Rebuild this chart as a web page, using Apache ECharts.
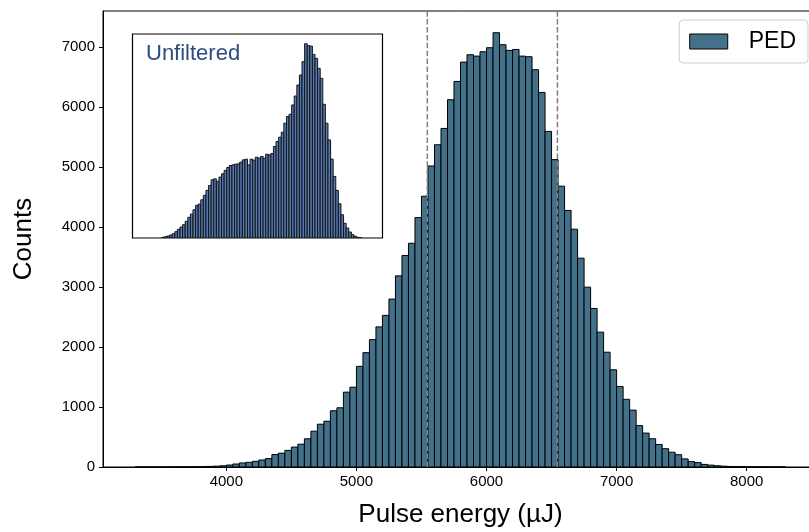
<!DOCTYPE html>
<html>
<head>
<meta charset="utf-8">
<script src="https://cdn.jsdelivr.net/npm/echarts@6/dist/echarts.min.js"></script>
<style>
  html, body { margin: 0; padding: 0; background: #fff; }
  #chart { width: 809px; height: 532px; }
</style>
</head>
<body>
<div id="chart"></div>
<script>
// ---- Data ----
const binStart = 3300;      // first bin left edge (µJ)
const binWidth = 50;        // bin width (µJ)
const pedCounts = [
  1,0,0,1,0,1,2,1,3,4,6,10,14,20,
  33,50,67,78,95,117,140,207,230,277,332,
  380,470,597,713,763,937,987,1247,1330,1677,1905,
  2122,2335,2527,2798,3185,3524,3728,4156,4512,
  5016,5370,5642,6120,6425,6747,6870,6847,6920,6987,7237,7037,6942,6958,6847,6837,6620,6242,5592,5122,4680,4275,
  3963,3480,2997,2642,2247,1913,1620,1342,1128,948,690,565,471,375,305,246,205,135,90,73,43,31,21,14,
  9,6,5,3,2,2,1,1,1
];
const dashedLines = [5545, 6545];
const xTicks = [4000, 5000, 6000, 7000, 8000];
const yTicks = [0, 1000, 2000, 3000, 4000, 5000, 6000, 7000];
// Inset ("Unfiltered") histogram, relative counts per bin (no axes shown)
const unfilteredCounts = [
  7,13,20,30,43,63,87,110,133,167,207,240,283,327,340,383,427,477,527,583,
  593,567,610,643,677,707,727,733,740,743,760,783,790,733,790,780,810,800,817,800,
  840,833,847,917,967,1010,1060,1150,1217,1240,1333,1423,1533,1633,1767,1947,1927,1923,1840,1800,
  1700,1600,1340,1150,983,790,617,477,343,233,147,100,60,33,17,7,3
];

const FONT = 'Liberation Sans, Arial, Helvetica, sans-serif';
const PED_COLOR = '#44718a';
const INSET_COLOR = '#5479b3';

const pedData = pedCounts.map((c, i) => [binStart + i * binWidth, binStart + (i + 1) * binWidth, c]);
const insetData = unfilteredCounts.map((c, i) => [i, i + 1, c]);
const pedMax = Math.max(...pedCounts) * 1.05;
const insetMax = Math.max(...unfilteredCounts) * 1.05;

function histRenderer(fill, stroke, lw) {
  return function (params, api) {
    const x0 = api.value(0), x1 = api.value(1), y = api.value(2);
    const p0 = api.coord([x0, y]);
    const p1 = api.coord([x1, 0]);
    return {
      type: 'rect',
      shape: { x: p0[0], y: p0[1], width: p1[0] - p0[0], height: p1[1] - p0[1] },
      style: { fill: fill, stroke: stroke, lineWidth: lw }
    };
  };
}
const plain = v => String(v);

const chart = echarts.init(document.getElementById('chart'), null, { renderer: 'canvas' });
const option = {
  animation: false,
  backgroundColor: '#fff',
  textStyle: { fontFamily: FONT },
  grid: [
    { left: 103, top: 11, width: 715, height: 456, show: true, borderColor: '#000', borderWidth: 1,
      backgroundColor: 'transparent', outerBoundsMode: 'none', containLabel: false },
    { left: 132.5, top: 34, width: 250, height: 204, show: true, borderColor: '#000', borderWidth: 1.2,
      backgroundColor: '#fff', z: 5, outerBoundsMode: 'none', containLabel: false }
  ],
  xAxis: [
    {
      type: 'value', gridIndex: 0, min: 3052, max: 8548,
      name: 'Pulse energy (µJ)', nameLocation: 'middle', nameGap: 35,
      nameTextStyle: { fontSize: 26, color: '#000', fontFamily: FONT },
      axisLine: { show: true, onZero: false, lineStyle: { color: '#000', width: 1 } },
      axisTick: { show: true, inside: false, length: 4, lineStyle: { color: '#000' }, customValues: xTicks },
      axisLabel: { show: true, fontSize: 15, color: '#000', margin: 7, fontFamily: FONT, customValues: xTicks, formatter: plain },
      splitLine: { show: false }
    },
    { type: 'value', gridIndex: 1, min: -11.3, max: 85, show: false, splitLine: { show: false } }
  ],
  yAxis: [
    {
      type: 'value', gridIndex: 0, min: 0, max: pedMax,
      name: 'Counts', nameLocation: 'middle', nameGap: 66,
      nameTextStyle: { fontSize: 26, color: '#000', fontFamily: FONT },
      axisLine: { show: true, lineStyle: { color: '#000', width: 1 } },
      axisTick: { show: true, inside: false, length: 4, lineStyle: { color: '#000' }, customValues: yTicks },
      axisLabel: { show: true, fontSize: 15, color: '#000', margin: 8, fontFamily: FONT, customValues: yTicks, formatter: plain },
      splitLine: { show: false }
    },
    { type: 'value', gridIndex: 1, min: 0, max: insetMax, show: false, splitLine: { show: false } }
  ],
  legend: {
    data: [{ name: 'PED', icon: 'rect', itemStyle: { color: PED_COLOR, borderColor: '#000', borderWidth: 1 } }],
    right: 1, top: 20,
    itemWidth: 38, itemHeight: 15, itemGap: 10,
    padding: [10, 12, 10, 10],
    borderColor: '#cccccc', borderWidth: 1, borderRadius: 4,
    backgroundColor: 'rgba(255,255,255,0.85)',
    textStyle: { fontSize: 23, color: '#000', fontFamily: FONT, padding: [0, 0, 0, 16] },
    selectedMode: false
  },
  graphic: [
    { type: 'text', left: 146, top: 43, z: 100,
      style: { text: 'Unfiltered', fill: '#2d4c80', font: '22px ' + FONT } }
  ],
  series: [
    {
      name: 'PED', type: 'custom', xAxisIndex: 0, yAxisIndex: 0,
      renderItem: histRenderer(PED_COLOR, '#000', 1),
      itemStyle: { color: PED_COLOR },
      encode: { x: [0, 1], y: 2 },
      data: pedData, clip: true, z: 2
    },
    {
      name: 'lineA', type: 'line', xAxisIndex: 0, yAxisIndex: 0,
      data: [[dashedLines[0], 0], [dashedLines[0], pedMax]],
      showSymbol: false, symbol: 'none', silent: true, z: 4,
      lineStyle: { color: '#808080', width: 1.5, type: [5.5, 2.4] }
    },
    {
      name: 'lineB', type: 'line', xAxisIndex: 0, yAxisIndex: 0,
      data: [[dashedLines[1], 0], [dashedLines[1], pedMax]],
      showSymbol: false, symbol: 'none', silent: true, z: 4,
      lineStyle: { color: '#808080', width: 1.5, type: [5.5, 2.4] }
    },
    {
      name: 'Unfiltered', type: 'custom', xAxisIndex: 1, yAxisIndex: 1,
      renderItem: histRenderer(INSET_COLOR, '#141414', 1),
      encode: { x: [0, 1], y: 2 },
      data: insetData, clip: true, z: 6
    }
  ]
};
chart.setOption(option);
</script>
</body>
</html>
